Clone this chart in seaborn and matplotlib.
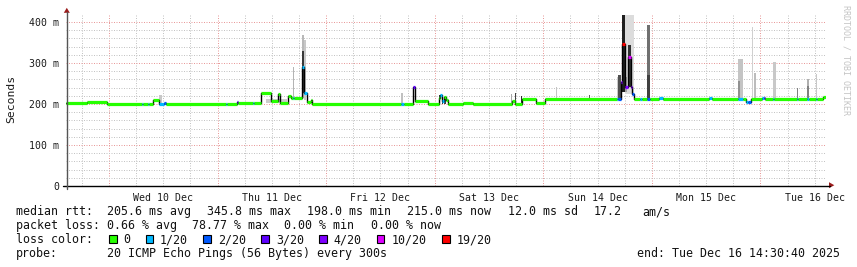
import matplotlib
matplotlib.use("Agg")
import matplotlib.pyplot as plt
from matplotlib.patches import Polygon, Rectangle
from matplotlib.lines import Line2D
import seaborn as sns

# ---------------- data ----------------
# time axis in days of December 2025 (Dec 9 14:30:40 .. Dec 16 14:30:40)
T_START = 9.6046
T_END = 16.6046

# median rtt as steps: start time, median (ms), lost pings out of 20
med_t = [9.605, 9.795, 9.979, 10.301, 10.310, 10.356, 10.365, 10.402, 10.458, 10.504,
         10.522, 11.075, 11.085, 11.176, 11.185, 11.323, 11.332, 11.397, 11.489, 11.553,
         11.572, 11.645, 11.673, 11.692, 11.700, 11.774, 11.793, 11.800, 11.820, 11.857,
         11.866, 12.686, 12.714, 12.797, 12.815, 12.935, 13.036, 13.050, 13.064, 13.082,
         13.100, 13.119, 13.257, 13.349, 13.717, 13.736, 13.809, 13.929, 14.012, 14.675,
         14.693, 14.721, 14.730, 14.749, 14.785, 14.804, 14.822, 14.832, 14.896, 14.914,
         14.960, 14.979, 15.062, 15.099, 15.531, 15.559, 15.798, 15.844, 15.872, 15.890,
         15.918, 16.019, 16.035, 16.047, 16.121, 16.130, 16.342, 16.350, 16.434, 16.445,
         16.517, 16.525, 16.581]
med_ms = [202, 205, 199, 199, 199, 199, 199, 210, 199, 203,
          199, 199, 199, 206, 203, 203, 203, 228, 207, 224,
          203, 220, 214, 214, 214, 290, 275, 228, 204, 210,
          199, 199, 199, 242, 207, 201, 215, 221, 208, 217,
          210, 199, 203, 199, 208, 200, 212, 202, 212, 212,
          213, 253, 346, 242, 315, 242, 225, 212, 212, 212,
          212, 212, 215, 212, 214, 212, 212, 212, 206, 204,
          212, 215, 214, 212, 212, 212, 212, 212, 212, 212,
          212, 212, 218]
med_loss = [0, 0, 0, 1, 0, 1, 0, 0, 1, 2,
            0, 1, 0, 3, 0, 1, 0, 0, 0, 0,
            0, 0, 0, 1, 0, 1, 1, 1, 0, 0,
            0, 1, 0, 3, 0, 0, 0, 1, 1, 0,
            0, 0, 0, 0, 0, 0, 0, 0, 0, 1,
            2, 4, 19, 4, 10, 4, 2, 0, 1, 0,
            2, 0, 1, 0, 1, 0, 1, 0, 1, 2,
            0, 1, 3, 0, 1, 0, 1, 0, 1, 0,
            1, 0, 0]

# smoke (spread of the individual pings): start, end, low (ms), high (ms), shade
smoke_t0 = [10.458, 11.450, 11.692, 11.774, 11.800, 11.774, 12.686, 12.815, 13.036, 13.064,
            13.090, 13.699, 13.736, 13.773, 13.791, 14.122, 14.426, 14.675, 14.693, 14.730,
            14.749, 14.749, 14.785, 14.960, 14.960, 15.798, 15.798, 15.927, 15.946, 16.121,
            16.342, 16.434, 16.434, 16.517]
smoke_t1 = [10.490, 11.640, 11.700, 11.800, 11.815, 11.795, 12.710, 12.822, 13.046, 13.074,
            13.100, 13.710, 13.745, 13.781, 13.800, 14.129, 14.433, 14.685, 14.721, 14.749,
            14.832, 14.770, 14.804, 14.979, 14.979, 15.844, 15.812, 15.936, 15.964, 16.148,
            16.350, 16.452, 16.445, 16.525]
smoke_lo = [199, 203, 214, 215, 210, 228, 199, 207, 200, 200,
            200, 200, 200, 200, 200, 212, 212, 212, 212, 230,
            225, 230, 242, 212, 212, 212, 212, 212, 212, 212,
            212, 212, 212, 212]
smoke_hi = [222, 213, 290, 368, 355, 330, 227, 416, 221, 223,
            218, 225, 228, 236, 220, 242, 222, 267, 270, 416,
            416, 265, 343, 392, 270, 310, 256, 388, 276, 302,
            240, 262, 245, 273]
smoke_gray = ['#c8c8c8', '#cccccc', '#b4b4b4', '#b8b8b8', '#c8c8c8', '#383838', '#c0c0c0',
              '#d0d0d0', '#404040', '#303030', '#404040', '#a8a8a8', '#404040', '#b0b0b0',
              '#303030', '#c4c4c4', '#606060', '#c8c8c8', '#505050', '#202020', '#dcdcdc',
              '#a0a0a0', '#303030', '#707070', '#404040', '#c4c4c4', '#909090', '#d0d0d0',
              '#bcbcbc', '#c8c8c8', '#808080', '#b0b0b0', '#808080', '#c8c8c8']

loss_keys = [0, 1, 2, 3, 4, 10, 19]
loss_labels = ["0", "1/20", "2/20", "3/20", "4/20", "10/20", "19/20"]
loss_colors = ['#26ff00', '#00b8ff', '#0059ff', '#5e00ff', '#7e00ff', '#dd00ff', '#ff0000']

day_ticks = [10.5, 11.5, 12.5, 13.5, 14.5, 15.5, 16.5]
day_labels = ["Wed 10 Dec", "Thu 11 Dec", "Fri 12 Dec", "Sat 13 Dec",
              "Sun 14 Dec", "Mon 15 Dec", "Tue 16 Dec"]
y_ticks = [0, 100, 200, 300, 400]
y_labels = ["0", "100 m", "200 m", "300 m", "400 m"]

# ---------------- figure ----------------
sns.set_style("white")
plt.rcParams["font.family"] = ["DejaVu Sans Mono", "DejaVu Sans"]

W, H = 857, 267
fig = plt.figure(figsize=(W / 100, H / 100), dpi=100)
fig.patch.set_facecolor("white")


def fx(x):
    return x / W


def fy(y):
    return 1 - y / H


ax = fig.add_axes([fx(66), fy(186), 760 / W, 171 / H])
ax.set_xlim(T_START, T_END)
ax.set_ylim(0, 417)
ax.set_facecolor("white")
for s in ax.spines.values():
    s.set_visible(False)

# grid
minor_c, major_c = "#c4c4c4", "#e89a9a"
q = 39
while q / 4 <= T_END:
    d = q / 4
    if d > T_START:
        major = (q % 4 == 0)
        ax.axvline(d, color=major_c if major else minor_c, lw=0.72,
                   ls=(0, (1, 1.5)), zorder=0)
    q += 1
for v in range(20, 420, 20):
    major = (v % 100 == 0)
    ax.axhline(v, color=major_c if major else minor_c, lw=0.72,
               ls=(0, (1, 1.5)), zorder=0)

# smoke
ax.bar(smoke_t0, [h - l for h, l in zip(smoke_hi, smoke_lo)], bottom=smoke_lo,
       width=[b - a for a, b in zip(smoke_t0, smoke_t1)], align="edge",
       color=smoke_gray, linewidth=0, zorder=2)

# median (black step outline)
sns.lineplot(x=med_t + [T_END], y=med_ms + [med_ms[-1]], drawstyle="steps-post",
             estimator=None, sort=False, color="black", linewidth=1.0, ax=ax, zorder=3)

# median coloured by loss
cmap = dict(zip(loss_keys, loss_colors))
ax.hlines(med_ms, med_t, med_t[1:] + [T_END],
          colors=[cmap[l] for l in med_loss], linewidth=2.3, zorder=4)

# ticks
ax.set_xticks(day_ticks)
ax.set_xticklabels(day_labels)
ax.set_yticks(y_ticks)
ax.set_yticklabels(y_labels)
ax.tick_params(axis="both", length=0, labelsize=7.1, colors="#1a1a1a")
ax.tick_params(axis="x", pad=5)
ax.tick_params(axis="y", pad=5)
ax.set_xlabel("")
ax.set_ylabel("")

# axis lines + arrows
fig.add_artist(Line2D([fx(63), fx(830)], [fy(185.7), fy(185.7)], color="black", lw=1.0))
fig.add_artist(Line2D([fx(66.7), fx(66.7)], [fy(189), fy(12)], color="#555555", lw=1.0))
arrow_c = "#9b1c1c"
fig.add_artist(Polygon([(fx(63.8), fy(12.8)), (fx(69.8), fy(12.8)), (fx(66.8), fy(7.8))],
                       closed=True, color=arrow_c, lw=0))
fig.add_artist(Polygon([(fx(829), fy(182.2)), (fx(829), fy(188.2)), (fx(834.3), fy(185.2))],
                       closed=True, color=arrow_c, lw=0))

# axis label and watermark
fig.text(fx(11), fy(99), "Seconds", rotation=90, fontsize=8.2, ha="center", va="center",
         color="#1a1a1a")
fig.text(fx(846), fy(60), "RRDTOOL / TOBI OETIKER", rotation=270, fontsize=6,
         ha="center", va="center", color="#c4c4c4")

# legend text
fs = 8.37
tc = "#111111"
row1 = [(16, "median rtt:"), (107.3, "205.6 ms avg"), (207.3, "345.8 ms max"),
        (307.3, "198.0 ms min"), (407.3, "215.0 ms now"), (507.7, "12.0 ms sd"),
        (593.3, "17.2"), (642.3, "am/s")]
row2 = [(16, "packet loss:"), (107.3, "0.66 % avg"), (192, "78.77 % max"),
        (284, "0.00 % min"), (371, "0.00 % now")]
for x, s in row1:
    fig.text(fx(x), fy(215.3), s, fontsize=fs, va="baseline", ha="left", color=tc)
for x, s in row2:
    fig.text(fx(x), fy(229.2), s, fontsize=fs, va="baseline", ha="left", color=tc)
fig.text(fx(16), fy(243.2), "loss color:", fontsize=fs, va="baseline", ha="left", color=tc)
box_x = [109, 145.7, 203.3, 261, 319, 376.7, 442.3]
lab_x = [123, 160, 218.3, 276, 333.3, 391.7, 456.7]
for bx, lx, lab, col in zip(box_x, lab_x, loss_labels, loss_colors):
    fig.add_artist(Rectangle((fx(bx), fy(243.3)), 7.5 / W, 8 / H, facecolor=col,
                             edgecolor="black", lw=0.8, transform=fig.transFigure))
    fig.text(fx(lx), fy(243.2), lab, fontsize=fs, va="baseline", ha="left", color=tc)
fig.text(fx(16), fy(257), "probe:", fontsize=fs, va="baseline", ha="left", color=tc)
fig.text(fx(107.3), fy(257), "20 ICMP Echo Pings (56 Bytes) every 300s", fontsize=fs,
         va="baseline", ha="left", color=tc)
fig.text(fx(840), fy(257), "end: Tue Dec 16 14:30:40 2025", fontsize=fs,
         va="baseline", ha="right", color=tc)

fig.savefig("out.png", dpi=100, facecolor="white")
